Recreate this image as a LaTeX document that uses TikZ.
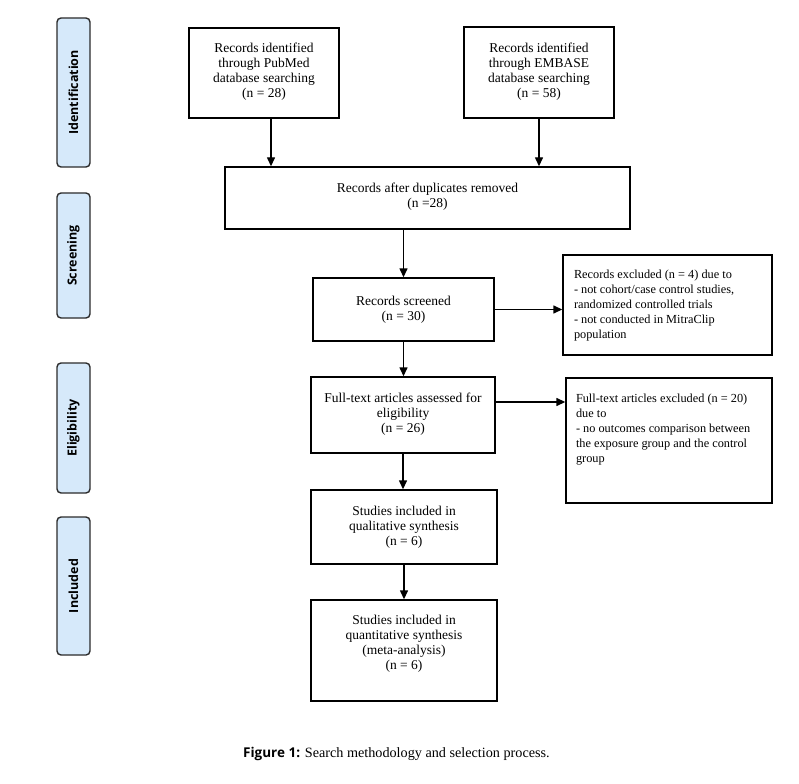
\documentclass[tikz,border=0pt]{standalone}
\usepackage{fontspec}
\setmainfont{Liberation Serif}
\newfontfamily\osans{Open Sans}
\usetikzlibrary{arrows.meta}
\definecolor{phasefill}{HTML}{D6E9FA}
\definecolor{phaseline}{HTML}{2B2B2B}
\tikzset{
  box/.style={draw=black, line width=1.4pt, fill=white, align=center, inner sep=0pt,
    font=\fontsize{13.5}{15}\selectfont},
  exbox/.style={draw=black, line width=1.4pt, fill=white, inner xsep=11pt, inner ysep=9pt,
    font=\fontsize{12.3}{15}\selectfont},
  phase/.style={draw=phaseline, line width=1.4pt, fill=phasefill, rounded corners=4pt,
    rotate=90, minimum height=33pt, inner sep=0pt, font=\osans\bfseries\fontsize{12.5}{14}\selectfont},
  arr/.style={line width=1.4pt, -{Triangle[length=9pt,width=8pt]}},
}
\begin{document}
\begin{tikzpicture}[x=1pt,y=-1pt]
\useasboundingbox (0,0) rectangle (799,783);
% phase labels
\node[phase, minimum width=149pt] (ph1) at (73.5,92.5) {Identification};
\node[phase, minimum width=125pt] (ph2) at (73.5,255.5) {Screening};
\node[phase, minimum width=130pt] (ph3) at (73.5,428) {Eligibility};
\node[phase, minimum width=138pt] (ph4) at (73.5,586) {Included};
% main boxes
\node[box, minimum width=150pt, minimum height=90pt] (pub) at (264,73)
  {Records identified\\through PubMed\\database searching\\(n = 28)\\[-10pt]};
\node[box, minimum width=150pt, minimum height=91pt] (emb) at (539,72.5)
  {Records identified\\through EMBASE\\database searching\\(n = 58)\\[-10pt]};
\node[box, minimum width=405pt, minimum height=62pt] (dup) at (427.5,198)
  {Records after duplicates removed\\(n =28)\\[-10pt]};
\node[box, minimum width=181pt, minimum height=63pt] (scr) at (403.5,309.5)
  {Records screened\\(n = 30)\\[-12pt]};
\node[box, minimum width=184pt, minimum height=76pt] (ful) at (403,415)
  {Full-text articles assessed for\\eligibility\\(n = 26)\\[-11pt]};
\node[box, minimum width=186pt, minimum height=74pt] (qual) at (404,527)
  {Studies included in\\qualitative synthesis\\(n = 6)\\[-12pt]};
\node[box, minimum width=186pt, minimum height=101pt] (quan) at (404,650.5)
  {Studies included in\\quantitative synthesis\\(meta-analysis)\\(n = 6)\\[1pt]};
% exclusion boxes
\node[exbox] (exc1) at (667.5,305)
  {\parbox[c][82pt][t]{187pt}{\vspace*{6pt}\raggedright Records excluded (n = 4) due to\\- not cohort/case control studies,\\randomized controlled trials\\- not conducted in MitraClip\\population}};
\node[exbox, inner xsep=10pt] (exc2) at (669,440.5)
  {\parbox[c][107pt][t]{186pt}{\vspace*{7pt}\raggedright Full-text articles excluded (n = 20)\\due to\\- no outcomes comparison between\\the exposure group and the control\\group}};
% connectors
\draw[arr] ([xshift=7pt]pub.south) -- ([xshift=7pt]pub.south |- dup.north);
\draw[arr] (emb.south) -- (emb.south |- dup.north);
\draw[arr] (scr.north |- dup.south) -- (scr.north);
\draw[arr] (scr.east) -- (scr.east -| exc1.west);
\draw[arr] (scr.south) -- (scr.south |- ful.north);
\draw[arr] ([yshift=13pt]ful.east) -- ([yshift=13pt]ful.east -| exc2.west);
\draw[arr] (ful.south) -- (ful.south |- qual.north);
\draw[arr] (qual.south) -- (qual.south |- quan.north);
% caption
\node[anchor=base west, inner sep=0pt, font=\fontsize{14.2}{16}\selectfont] (cap) at (243,757)
  {{\osans\bfseries\fontsize{13.5}{16}\selectfont Figure 1:} Search methodology and selection process.};
\end{tikzpicture}
\end{document}
